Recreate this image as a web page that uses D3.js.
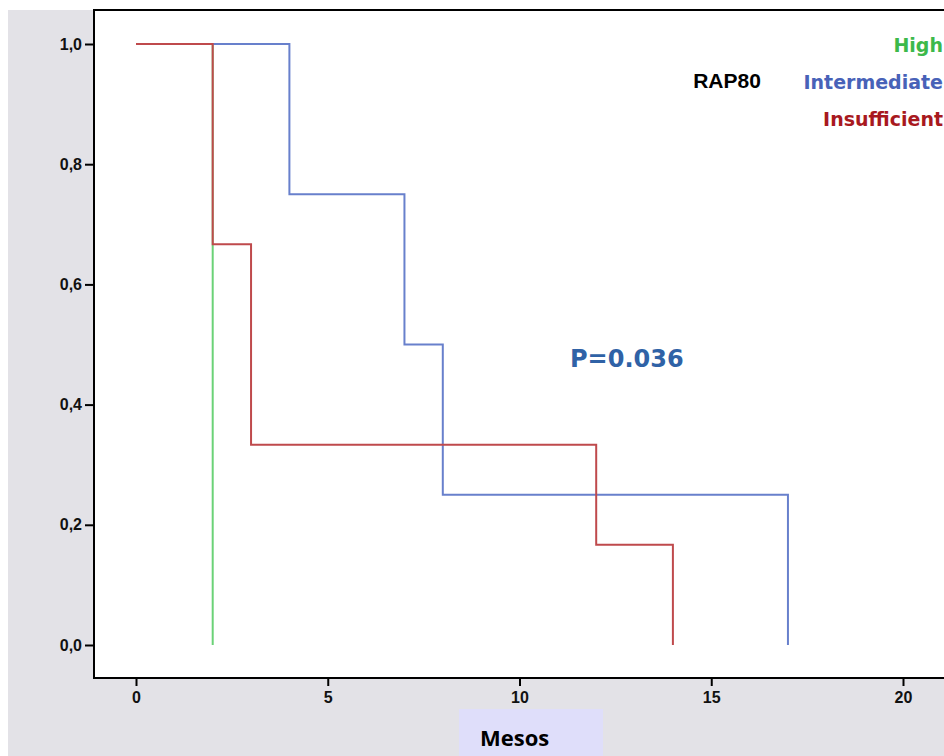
<!DOCTYPE html>
<html>
<head>
<meta charset="utf-8">
<script src="https://cdn.jsdelivr.net/npm/d3@7"></script>
<style>
  body { margin: 0; background: #fff; }
  svg { display: block; }
</style>
</head>
<body>
<svg id="chart" width="944" height="756"></svg>
<script>
"use strict";

// survival steps (time in months, cumulative survival)
const highT = [0, 2, 2];
const highS = [1, 1, 0];

const interT = [0, 4, 4, 7, 7, 8, 8, 17, 17];
const interS = [1, 1, 0.75, 0.75, 0.5, 0.5, 0.25, 0.25, 0];

const insufT = [0, 2, 2, 3, 3, 12, 12, 14, 14];
const insufS = [1, 1, 0.667, 0.667, 0.333, 0.333, 0.167, 0.167, 0];

const xTicks = [0, 5, 10, 15, 20];
const yTicks = [0, 0.2, 0.4, 0.6, 0.8, 1.0];

const legendNames = ["High", "Intermediate", "Insufficient"];
const legendColors = ["#3cb94a", "#4862b8", "#a8191e"];

const svg = d3.select("#chart");

// grey backdrop
svg.append("rect")
    .attr("x", 8).attr("y", 10)
    .attr("width", 936).attr("height", 746)
    .attr("fill", "#e3e2e7");

// plot area
const plotL = 94, plotT = 10, plotR = 960, plotB = 678;

svg.append("rect")
    .attr("x", plotL).attr("y", plotT)
    .attr("width", plotR - plotL).attr("height", plotB - plotT)
    .attr("fill", "#fff")
    .attr("stroke", "#000")
    .attr("stroke-width", 2);

const x = d3.scaleLinear().domain([0, 20]).range([136, 903]);
const y = d3.scaleLinear().domain([0, 1]).range([645, 44]);

const fmtY = d => d3.format(".1f")(d).replace(".", ",");

function styleTicks(g) {
    g.attr("font-size", 16).attr("font-family", "'Liberation Sans', Arial, sans-serif");
    g.select(".domain").remove();
    g.selectAll("line").attr("stroke", "#000").attr("stroke-width", 2);
    g.selectAll("text")
        .attr("fill", "#111")
        .attr("font-size", 16)
        .attr("font-weight", "bold")
        .style("font-size", "16px")
        .style("font-weight", "bold");
}

// y axis
svg.append("g")
    .attr("transform", `translate(${plotL},0)`)
    .call(d3.axisLeft(y).tickValues(yTicks).tickFormat(fmtY).tickSize(9).tickPadding(3))
    .call(styleTicks);

// x axis
svg.append("g")
    .attr("transform", `translate(0,${plotB})`)
    .call(d3.axisBottom(x).tickValues(xTicks).tickSize(8).tickPadding(6))
    .call(styleTicks);

// step curves
const line = d3.line()
    .x(d => x(d[0]))
    .y(d => y(d[1]));

const curves = [
    { t: highT, s: highS, color: "#6bd277" },
    { t: interT, s: interS, color: "#6880cc" },
    { t: insufT, s: insufS, color: "#bf4a4c" }
];

curves.forEach(c => {
    svg.append("path")
        .datum(c.t.map((t, i) => [t, c.s[i]]))
        .attr("d", line)
        .attr("fill", "none")
        .attr("stroke", c.color)
        .attr("stroke-width", 2);
});

// legend
svg.append("text")
    .attr("x", 727).attr("y", 88)
    .attr("text-anchor", "middle")
    .attr("fill", "#000")
    .style("font", "bold 21px 'Liberation Sans', Arial, sans-serif")
    .text("RAP80");

legendNames.forEach((name, i) => {
    svg.append("text")
        .attr("x", 943).attr("y", 52 + i * 37)
        .attr("text-anchor", "end")
        .attr("fill", legendColors[i])
        .style("font", "bold 19px 'DejaVu Sans', Verdana, sans-serif")
        .text(name);
});

// p value
svg.append("text")
    .attr("x", 570).attr("y", 367)
    .attr("fill", "#2f62a6")
    .style("font", "bold 24px 'DejaVu Sans', Verdana, sans-serif")
    .text("P=0.036");

// x axis title box
svg.append("rect")
    .attr("x", 459).attr("y", 709)
    .attr("width", 144).attr("height", 47)
    .attr("fill", "#dfdefa");

svg.append("text")
    .attr("x", 480).attr("y", 746)
    .attr("fill", "#000")
    .style("font", "bold 22px 'Open Sans', 'Noto Sans', sans-serif")
    .text("Mesos");
</script>
</body>
</html>
